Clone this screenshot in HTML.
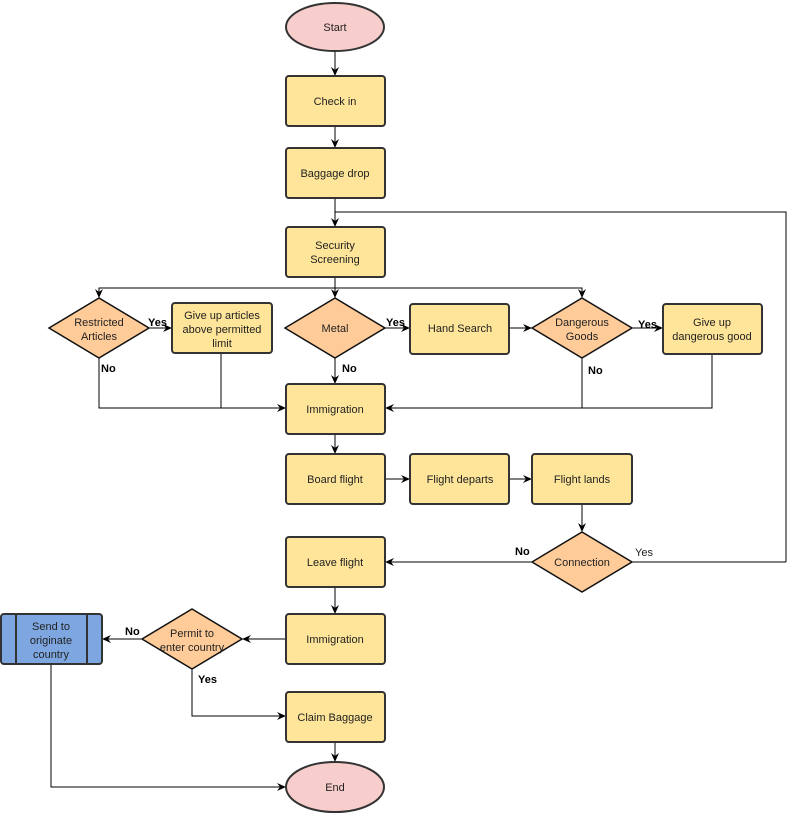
<!DOCTYPE html>
<html><head><meta charset="utf-8"><style>
html,body{margin:0;padding:0;background:#fff;}
svg text{font-family:"Liberation Sans",sans-serif;font-size:11px;fill:#222;text-anchor:middle;}
.b{font-weight:bold;fill:#000;text-anchor:start;}
</style></head><body>
<svg width="796" height="814" viewBox="0 0 796 814" xmlns="http://www.w3.org/2000/svg">
<defs><marker id="a" markerWidth="10" markerHeight="10" refX="9" refY="5" orient="auto" markerUnits="userSpaceOnUse"><path d="M0,1 L9,5 L0,9 L3,5 Z" fill="#000"/></marker></defs>
<g stroke="#000" stroke-width="1" fill="none" marker-end="url(#a)">
<path d="M335,51 V76"/><path d="M335,126 V148"/><path d="M335,198 V227"/>
<path d="M786,562 V212 H335 V227" marker-end="none"/>
<path d="M335,277 V288 H99 V298"/><path d="M335,288 V298"/><path d="M335,288 H582 V298"/>
<path d="M149,328 H172"/><path d="M385,328 H410"/><path d="M509,328 H532"/><path d="M632,328 H663"/>
<path d="M335,358 V384"/>
<path d="M99,358 V408 H286"/><path d="M221,353 V408" marker-end="none"/>
<path d="M582,358 V408 H385"/><path d="M712,354 V408 H582" marker-end="none"/>
<path d="M335,434 V454"/><path d="M385,479 H410"/><path d="M509,479 H532"/>
<path d="M582,504 V532"/><path d="M532,562 H385"/><path d="M632,562 H786" marker-end="none"/>
<path d="M335,587 V614"/><path d="M286,639 H242"/><path d="M142,639 H102"/>
<path d="M192,669 V716 H286"/><path d="M51,664 V787 H286"/><path d="M335,742 V762"/>
</g>
<g stroke="#333" stroke-width="2">
<ellipse cx="335" cy="27" rx="49" ry="24" fill="#f8cecc"/>
<ellipse cx="335" cy="787" rx="49" ry="25" fill="#f8cecc"/>
<g fill="#ffe599">
<rect x="286" y="76" width="99" height="50" rx="3"/>
<rect x="286" y="148" width="99" height="50" rx="3"/>
<rect x="286" y="227" width="99" height="50" rx="3"/>
<rect x="172" y="303" width="100" height="50" rx="3"/>
<rect x="410" y="304" width="99" height="50" rx="3"/>
<rect x="663" y="304" width="99" height="50" rx="3"/>
<rect x="286" y="384" width="99" height="50" rx="3"/>
<rect x="286" y="454" width="99" height="50" rx="3"/>
<rect x="410" y="454" width="99" height="50" rx="3"/>
<rect x="532" y="454" width="100" height="50" rx="3"/>
<rect x="286" y="537" width="99" height="50" rx="3"/>
<rect x="286" y="614" width="99" height="50" rx="3"/>
<rect x="286" y="692" width="99" height="50" rx="3"/>
</g>
<g fill="#ffcc99" stroke="#111" stroke-width="1.5">
<path d="M49,328 L99,298 L149,328 L99,358 Z"/>
<path d="M285,328 L335,298 L385,328 L335,358 Z"/>
<path d="M532,328 L582,298 L632,328 L582,358 Z"/>
<path d="M532,562 L582,532 L632,562 L582,592 Z"/>
<path d="M142,639 L192,609 L242,639 L192,669 Z"/>
</g>
<rect x="1" y="614" width="101" height="50" rx="3" fill="#7ea6e0"/>
<path d="M16,614 V664 M87,614 V664"/>
</g>
<text x="335" y="31">Start</text>
<text x="335" y="105">Check in</text>
<text x="335" y="177">Baggage drop</text>
<text x="335" y="249">Security</text><text x="335" y="263">Screening</text>
<text x="99" y="326">Restricted</text><text x="99" y="340">Articles</text>
<text x="222" y="319">Give up articles</text><text x="222" y="333">above permitted</text><text x="222" y="347">limit</text>
<text x="335" y="332">Metal</text>
<text x="460" y="332">Hand Search</text>
<text x="582" y="326">Dangerous</text><text x="582" y="340">Goods</text>
<text x="712" y="326">Give up</text><text x="712" y="340">dangerous good</text>
<text x="335" y="413">Immigration</text>
<text x="335" y="483">Board flight</text>
<text x="460" y="483">Flight departs</text>
<text x="582" y="483">Flight lands</text>
<text x="582" y="566">Connection</text>
<text x="335" y="566">Leave flight</text>
<text x="335" y="643">Immigration</text>
<text x="192" y="637">Permit to</text><text x="192" y="651">enter country</text>
<text x="51" y="630">Send to</text><text x="51" y="644">originate</text><text x="51" y="658">country</text>
<text x="335" y="721">Claim Baggage</text>
<text x="335" y="791">End</text>
<text class="b" x="148" y="326">Yes</text>
<text class="b" x="101" y="372">No</text>
<text class="b" x="386" y="326">Yes</text>
<text class="b" x="342" y="372">No</text>
<text class="b" x="638" y="328">Yes</text>
<text class="b" x="588" y="374">No</text>
<text class="b" x="515" y="555">No</text>
<text x="644" y="556" style="text-anchor:middle">Yes</text>
<text class="b" x="125" y="635">No</text>
<text class="b" x="198" y="683">Yes</text>
</svg>
</body></html>
